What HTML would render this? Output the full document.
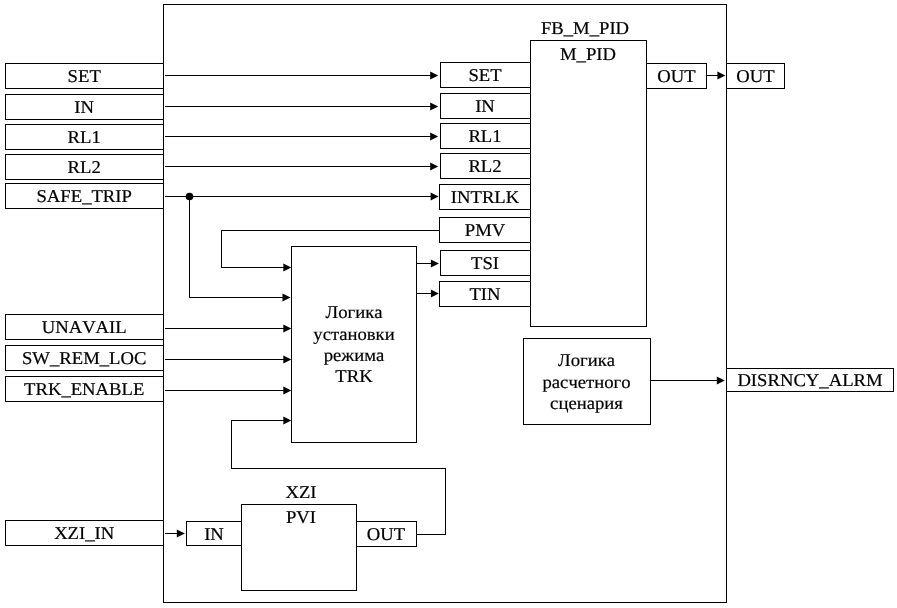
<!DOCTYPE html>
<html lang="ru">
<head>
<meta charset="utf-8">
<title>FB_M_PID</title>
<style>
html,body{margin:0;padding:0;background:#fff;}
svg{display:block;will-change:transform;}
text{font-family:"Liberation Serif","DejaVu Serif",serif;font-size:18px;fill:#000;stroke:#000;stroke-width:0.2px;text-anchor:middle;text-rendering:geometricPrecision;font-kerning:none;}
.b{fill:none;stroke:#000;stroke-width:1;shape-rendering:crispEdges;}
.l{stroke:#000;stroke-width:1;shape-rendering:crispEdges;fill:none;}
.a{fill:#000;stroke:none;}
</style>
</head>
<body>
<svg width="897" height="608" viewBox="0 0 897 608">
<rect x="0" y="0" width="897" height="608" fill="#fff"/>
<rect class="b" x="163.5" y="4.5" width="563" height="598"/>
<rect class="b" x="5.5" y="63.5" width="158" height="25"/>
<rect class="b" x="5.5" y="94.5" width="158" height="25"/>
<rect class="b" x="5.5" y="124.5" width="158" height="25"/>
<rect class="b" x="5.5" y="154.5" width="158" height="25"/>
<rect class="b" x="5.5" y="183.5" width="158" height="25"/>
<rect class="b" x="5.5" y="314.5" width="158" height="25"/>
<rect class="b" x="5.5" y="345.5" width="158" height="25"/>
<rect class="b" x="5.5" y="376.5" width="158" height="25"/>
<rect class="b" x="5.5" y="520.5" width="158" height="25"/>
<rect class="b" x="440.5" y="62.5" width="90" height="25"/>
<rect class="b" x="440.5" y="93.5" width="90" height="25"/>
<rect class="b" x="440.5" y="123.5" width="90" height="25"/>
<rect class="b" x="440.5" y="153.5" width="90" height="25"/>
<rect class="b" x="439.5" y="184.5" width="91" height="25"/>
<rect class="b" x="439.5" y="217.5" width="91" height="25"/>
<rect class="b" x="440.5" y="250.5" width="90" height="25"/>
<rect class="b" x="439.5" y="281.5" width="91" height="25"/>
<rect class="b" x="530.5" y="40.5" width="116" height="286"/>
<rect class="b" x="646.5" y="63.5" width="60" height="25"/>
<rect class="b" x="726.5" y="63.5" width="58" height="25"/>
<rect class="b" x="291.5" y="246.5" width="125" height="196"/>
<rect class="b" x="523.5" y="338.5" width="127" height="86"/>
<rect class="b" x="726.5" y="368.5" width="167" height="23"/>
<rect class="b" x="241.5" y="504.5" width="115" height="86"/>
<rect class="b" x="186.5" y="521.5" width="55" height="24"/>
<rect class="b" x="356.5" y="521.5" width="60" height="25"/>
<line class="l" x1="707" y1="75.5" x2="719.4" y2="75.5"/>
<line class="l" x1="165" y1="75.5" x2="432.2" y2="75.5"/>
<line class="l" x1="165" y1="106.5" x2="432.2" y2="106.5"/>
<line class="l" x1="165" y1="136.5" x2="432.2" y2="136.5"/>
<line class="l" x1="165" y1="166.5" x2="432.2" y2="166.5"/>
<line class="l" x1="165" y1="196.5" x2="432.6" y2="196.5"/>
<line class="l" x1="165" y1="328.5" x2="285.3" y2="328.5"/>
<line class="l" x1="165" y1="359.5" x2="285.3" y2="359.5"/>
<line class="l" x1="165" y1="390.5" x2="285.3" y2="390.5"/>
<line class="l" x1="189.5" y1="196" x2="189.5" y2="298"/>
<line class="l" x1="189" y1="297.5" x2="284.5" y2="297.5"/>
<line class="l" x1="221" y1="230.5" x2="438.5" y2="230.5"/>
<line class="l" x1="221.5" y1="230" x2="221.5" y2="268"/>
<line class="l" x1="221" y1="267.5" x2="285.3" y2="267.5"/>
<line class="l" x1="417" y1="263.5" x2="432.9" y2="263.5"/>
<line class="l" x1="417" y1="293.5" x2="432.9" y2="293.5"/>
<line class="l" x1="651" y1="380.5" x2="718.8" y2="380.5"/>
<line class="l" x1="165" y1="533.5" x2="178.8" y2="533.5"/>
<line class="l" x1="417" y1="534.5" x2="446" y2="534.5"/>
<line class="l" x1="445.5" y1="468" x2="445.5" y2="535"/>
<line class="l" x1="231" y1="468.5" x2="446" y2="468.5"/>
<line class="l" x1="231.5" y1="420" x2="231.5" y2="469"/>
<line class="l" x1="231" y1="420.5" x2="285.3" y2="420.5"/>
<polygon class="a" points="725.4,75.5 717.4,71.5 717.4,79.5"/>
<polygon class="a" points="438.2,75.5 430.2,71.5 430.2,79.5"/>
<polygon class="a" points="438.2,106.5 430.2,102.5 430.2,110.5"/>
<polygon class="a" points="438.2,136.5 430.2,132.5 430.2,140.5"/>
<polygon class="a" points="438.2,166.5 430.2,162.5 430.2,170.5"/>
<polygon class="a" points="438.6,196.5 430.6,192.5 430.6,200.5"/>
<polygon class="a" points="291.3,328.5 283.3,324.5 283.3,332.5"/>
<polygon class="a" points="291.3,359.5 283.3,355.5 283.3,363.5"/>
<polygon class="a" points="291.3,390.5 283.3,386.5 283.3,394.5"/>
<polygon class="a" points="290.5,297.5 282.5,293.5 282.5,301.5"/>
<polygon class="a" points="291.3,267.5 283.3,263.5 283.3,271.5"/>
<polygon class="a" points="438.9,263.5 430.9,259.5 430.9,267.5"/>
<polygon class="a" points="438.9,293.5 430.9,289.5 430.9,297.5"/>
<polygon class="a" points="724.8,380.5 716.8,376.5 716.8,384.5"/>
<polygon class="a" points="184.8,533.5 176.8,529.5 176.8,537.5"/>
<polygon class="a" points="291.3,420.5 283.3,416.5 283.3,424.5"/>
<circle cx="189.5" cy="196.5" r="3.8" fill="#000"/>
<text transform="translate(84.2 82) scale(1.0372 1)">SET</text>
<text transform="translate(84.2 113) scale(1.0372 1)">IN</text>
<text transform="translate(84.2 143) scale(1.0372 1)">RL1</text>
<text transform="translate(84.2 173) scale(1.0372 1)">RL2</text>
<text transform="translate(84.2 202) scale(1.0372 1)">SAFE_TRIP</text>
<text transform="translate(84.2 333) scale(1.0372 1)">UNAVAIL</text>
<text transform="translate(84.2 364) scale(1.0372 1)">SW_REM_LOC</text>
<text transform="translate(84.2 395) scale(1.0372 1)">TRK_ENABLE</text>
<text transform="translate(84.2 539) scale(1.0372 1)">XZI_IN</text>
<text transform="translate(485 81) scale(1.0372 1)">SET</text>
<text transform="translate(485 112) scale(1.0372 1)">IN</text>
<text transform="translate(485 142) scale(1.0372 1)">RL1</text>
<text transform="translate(485 172) scale(1.0372 1)">RL2</text>
<text transform="translate(485 203) scale(1.0372 1)">INTRLK</text>
<text transform="translate(485 236) scale(1.0372 1)">PMV</text>
<text transform="translate(485 269) scale(1.0372 1)">TSI</text>
<text transform="translate(485 300) scale(1.0372 1)">TIN</text>
<text transform="translate(585 34) scale(1.0372 1)">FB_M_PID</text>
<text transform="translate(588 60.3) scale(1.0372 1)">M_PID</text>
<text transform="translate(676.5 82) scale(1.0372 1)">OUT</text>
<text transform="translate(755.5 82) scale(1.0372 1)">OUT</text>
<text transform="translate(354 318) scale(1.0372 1)">Логика</text>
<text transform="translate(354 339.7) scale(1.0372 1)">установки</text>
<text transform="translate(354 360.8) scale(1.0372 1)">режима</text>
<text transform="translate(354 382) scale(1.0372 1)">TRK</text>
<text transform="translate(586.5 366) scale(1.0372 1)">Логика</text>
<text transform="translate(586.5 387.5) scale(1.0372 1)">расчетного</text>
<text transform="translate(586.5 409) scale(1.0372 1)">сценария</text>
<text transform="translate(810 386) scale(1.0372 1)">DISRNCY_ALRM</text>
<text transform="translate(301 498) scale(1.0372 1)">XZI</text>
<text transform="translate(301 523.4) scale(1.0372 1)">PVI</text>
<text transform="translate(214 540) scale(1.0372 1)">IN</text>
<text transform="translate(386 540) scale(1.0372 1)">OUT</text>
</svg>
</body>
</html>
